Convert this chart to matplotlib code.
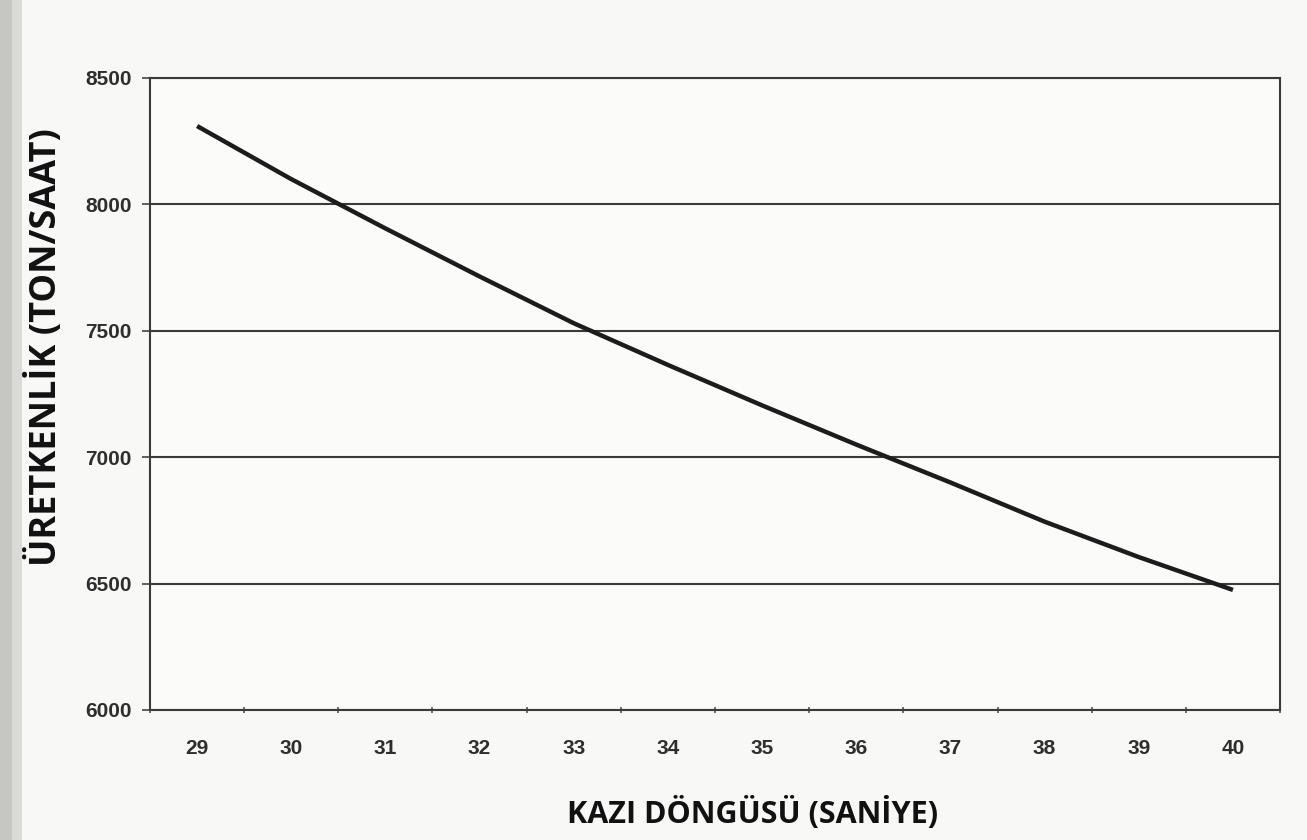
import matplotlib
matplotlib.use("Agg")
import matplotlib.pyplot as plt
from matplotlib.patches import Rectangle
import numpy as np

# Data
cycle_seconds = [29, 30, 31, 32, 33, 34, 35, 36, 37, 38, 39, 40]
production_tph = [8310, 8100, 7905, 7715, 7530, 7365, 7205, 7050, 6900, 6745, 6605, 6475]
y_ticks = [6000, 6500, 7000, 7500, 8000, 8500]

x_title = "KAZI DÖNGÜSÜ (SANİYE)"
y_title = "ÜRETKENLİK (TON/SAAT)"

W, H = 1307, 840
fig = plt.figure(figsize=(W / 100, H / 100), dpi=100)
fig.patch.set_facecolor("#f8f8f6")

# scanned page: darker strip on the left edge
fig.patches.append(Rectangle((0, 0), 12 / W, 1, transform=fig.transFigure,
                             facecolor="#c6c6c3", edgecolor="none", zorder=0))
fig.patches.append(Rectangle((12 / W, 0), 10 / W, 1, transform=fig.transFigure,
                             facecolor="#dadad7", edgecolor="none", zorder=0))

left, right, top, bottom = 150 / W, 1280 / W, 1 - 78 / H, 1 - 710 / H
ax = fig.add_axes([left, bottom, right - left, top - bottom])
ax.set_facecolor("#fbfbf9")

n = len(cycle_seconds)
xpos = np.arange(n)
ax.plot(xpos, production_tph, color="#1c1c1c", lw=3.2, solid_capstyle="butt", zorder=3)

ax.set_xlim(-0.5, n - 0.5)
ax.set_ylim(min(y_ticks), max(y_ticks))
ax.set_yticks(y_ticks)
ax.set_yticklabels([str(v) for v in y_ticks], fontsize=15, fontweight="bold",
                   color="#2e2e2e", family="Liberation Sans")
ax.yaxis.grid(True, color="#3a3a3a", lw=1.5)
ax.set_axisbelow(True)
ax.tick_params(axis="y", length=6, width=1.2, color="#444444", pad=7)

# category axis: ticks between categories, labels at centres
ax.set_xticks(np.arange(-0.5, n, 1.0))
ax.set_xticklabels([])
ax.set_xticks(xpos, minor=True)
ax.set_xticklabels([str(c) for c in cycle_seconds], minor=True, fontsize=15,
                   fontweight="bold", color="#2e2e2e", family="Liberation Sans")
ax.tick_params(axis="x", which="major", length=5, width=1.2, color="#555555", direction="inout")
ax.tick_params(axis="x", which="minor", length=0, pad=21)

for s in ax.spines.values():
    s.set_color("#3a3a3a")
    s.set_linewidth(1.5)

fig.text(753 / W, 1 - 813 / H, x_title, ha="center", va="center",
         fontsize=22, fontweight="bold", color="#111111", family="Open Sans")
fig.text(46 / W, 1 - 347 / H, y_title, ha="center", va="center", rotation=90,
         fontsize=26, fontweight="bold", color="#111111", family="Open Sans")

fig.savefig("out.png", dpi=100, facecolor=fig.get_facecolor())
